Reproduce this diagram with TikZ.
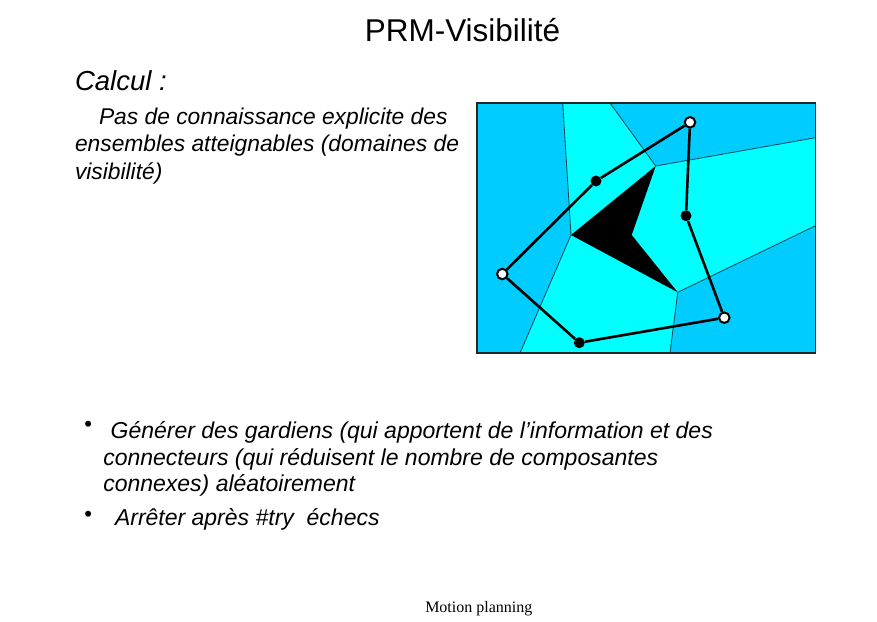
\documentclass[tikz,border=0pt]{standalone}
\usepackage{fontspec}
\setmainfont{Liberation Sans}
\newfontfamily\footfont{Liberation Serif}
\definecolor{skyblue}{RGB}{0,204,255}
\definecolor{aqua}{RGB}{0,255,255}
\definecolor{celledge}{RGB}{0,70,80}

\tikzset{
  txt/.style={anchor=base west, inner sep=0pt, outer sep=0pt},
  guard/.style={circle, draw=black, fill=white, line width=2pt,
                minimum size=10.5pt, inner sep=0pt},
  connector/.style={circle, fill=black, minimum size=11pt, inner sep=0pt},
  roadmap/.style={line width=2.6pt, black},
  celledge/.style={draw=celledge, line width=0.8pt},
  bodyfont/.style={font=\fontsize{22.8}{27}\selectfont\itshape},
  bulletfont/.style={inner sep=0pt, font=\fontsize{22}{24}\selectfont},
}

\begin{document}
\begin{tikzpicture}[x=1pt, y=-1pt]
\useasboundingbox (0,0) rectangle (877,621);

% title
\node[anchor=base, inner sep=0pt] (title) at (462.5,41)
  {\fontsize{31.5}{36}\selectfont PRM-Visibilité};

% heading and explanation
\node[txt, font=\fontsize{27.5}{32}\selectfont\itshape] (calcul) at (75,90.5) {Calcul :};
\node[txt, bodyfont] (l1) at (99,124)  {Pas de connaissance explicite des};
\node[txt, bodyfont] (l2) at (75,151.5) {ensembles atteignables (domaines de};
\node[txt, bodyfont] (l3) at (75,179)  {visibilité)};

% visibility domains
\fill[skyblue] (477,103) rectangle (815.5,353);
\fill[aqua] (562.7,103) -- (610,103) -- (655.7,166) -- (815.5,137.7)
  -- (815.5,225.7) -- (677.7,292.3) -- (670,353) -- (520,353)
  -- (571,235) -- cycle;
\draw[celledge] (562.7,103) -- (571,235) -- (520,353);
\draw[celledge] (610,103) -- (655.7,166) -- (815.5,137.7);
\draw[celledge] (815.5,225.7) -- (677.7,292.3) -- (670,353);
% obstacle
\fill[black] (655.7,166) -- (631.7,235) -- (677.7,292.3) -- (571,235) -- cycle;
% frame
\draw[line width=1.3pt, black!85] (477,103) rectangle (815.5,353);

% roadmap: guards and connectors
\node[guard] (g1) at (690,122.3) {};
\node[guard] (g2) at (502.3,274) {};
\node[guard] (g3) at (724.3,317.7) {};
\node[connector] (c1) at (596,181) {};
\node[connector] (c2) at (686,215.7) {};
\node[connector] (c3) at (579.3,342.7) {};
\draw[roadmap] (g2) -- (c1) -- (g1) -- (c2) -- (g3) -- (c3) -- (g2);

% bullet list
\node[bulletfont] (b1) at (88.3,426.7) {•};
\node[txt, font=\fontsize{23}{27}\selectfont\itshape] (t1) at (110.7,438) {Générer des gardiens (qui apportent de l’information et des};
\node[txt, font=\fontsize{23}{27}\selectfont\itshape] (t2) at (103.3,465) {connecteurs (qui réduisent le nombre de composantes};
\node[txt, font=\fontsize{23}{27}\selectfont\itshape] (t3) at (103.3,491.7) {connexes) aléatoirement};
\node[bulletfont] (b2) at (88.3,516) {•};
\node[txt, font=\fontsize{23}{27}\selectfont\itshape] (t4) at (115,525) {Arrêter après \#try\ \ échecs};

% footer
\node[anchor=base, inner sep=0pt, font=\footfont\fontsize{16}{18}\selectfont] (foot) at (478.8,612) {Motion planning};
\end{tikzpicture}
\end{document}
